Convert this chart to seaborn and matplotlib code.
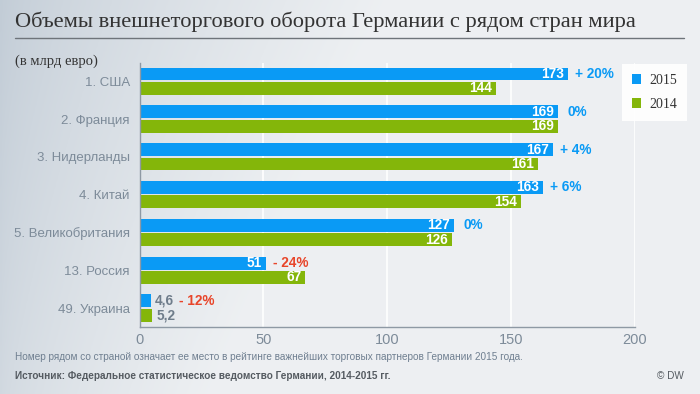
import numpy as np
import pandas as pd
import matplotlib
matplotlib.use("Agg")
import matplotlib.pyplot as plt
import seaborn as sns

countries = ["1. США", "2. Франция", "3. Нидерланды", "4. Китай",
             "5. Великобритания", "13. Россия", "49. Украина"]
v2015 = [173, 169, 167, 163, 127, 51, 4.6]
v2014 = [144, 169, 161, 154, 126, 67, 5.2]
lab2015 = ["173", "169", "167", "163", "127", "51", "4,6"]
lab2014 = ["144", "169", "161", "154", "126", "67", "5,2"]
changes = ["+ 20%", "0%", "+ 4%", "+ 6%", "0%", "- 24%", "- 12%"]
years = ["2015", "2014"]
xticks = [0, 50, 100, 150, 200]

title = "Объемы внешнеторгового оборота Германии с рядом стран мира"
unit = "(в млрд евро)"
note = "Номер рядом со страной означает ее место в рейтинге важнейших торговых партнеров Германии 2015 года."
source = "Источник: Федеральное статистическое ведомство Германии, 2014-2015 гг."
copyright_ = "© DW"

BLUE = "#0a9af5"
GREEN = "#84b60a"
RED = "#e8452a"
GRAYTXT = "#7d8b99"

df = pd.DataFrame({
    "country": countries * 2,
    "value": v2015 + v2014,
    "year": [years[0]] * len(countries) + [years[1]] * len(countries),
})

sns.set_theme(style="white")
plt.rcParams["font.family"] = ["Liberation Sans", "DejaVu Sans"]

fig = plt.figure(figsize=(7, 3.94), dpi=100)

# background gradient
bg = fig.add_axes([0, 0, 1, 1], zorder=-10)
xx = np.linspace(0, 1, 300)
yy = np.linspace(0, 1, 200)
X, Y = np.meshgrid(xx, yy)
c_left = np.array([0.76, 0.80, 0.84])
c_right = np.array([0.93, 0.94, 0.95])
t = np.clip(X / 0.55, 0, 1) ** 0.7
t = np.clip(t + 0.35 * Y, 0, 1)
img = c_left[None, None, :] * (1 - t[..., None]) + c_right[None, None, :] * t[..., None]
bg.imshow(img, aspect="auto", extent=[0, 1, 0, 1], origin="upper")
bg.axis("off")

ax = fig.add_axes([0.1993, 0.170, 0.7077, 0.670])
ax.patch.set_alpha(0)
sns.barplot(data=df, y="country", x="value", hue="year", orient="h",
            palette=[BLUE, GREEN], width=0.76, gap=0.1, ax=ax,
            saturation=1, legend=True, linewidth=0, edgecolor="none")

ax.set_xlim(0, 200)
ax.set_ylim(6.5, -0.48)
ax.set_xticks(xticks)
ax.set_xticklabels([str(v) for v in xticks])
ax.set_xlabel("")
ax.set_ylabel("")
ax.xaxis.grid(True, color="white", lw=1.2)
ax.set_axisbelow(True)
for s in ["top", "right"]:
    ax.spines[s].set_visible(False)
for s in ["left", "bottom"]:
    ax.spines[s].set_color("#8e99a4")
    ax.spines[s].set_linewidth(1)
ax.tick_params(axis="x", length=0, labelsize=10.5, labelcolor=GRAYTXT, pad=4)
ax.tick_params(axis="y", length=0, labelsize=9.5, labelcolor=GRAYTXT, pad=7)

# value labels
c15, c14 = ax.containers[0], ax.containers[1]
for i, (r15, r14) in enumerate(zip(c15, c14)):
    for r, lab in ((r15, lab2015[i]), (r14, lab2014[i])):
        w = r.get_width()
        yc = r.get_y() + r.get_height() / 2
        if w > 20:
            ax.annotate(lab, (w, yc), xytext=(-3, 0), textcoords="offset points",
                        ha="right", va="center", color="white", fontsize=9.8,
                        fontweight="bold")
        else:
            ax.annotate(lab, (w, yc), xytext=(3, 0), textcoords="offset points",
                        ha="left", va="center", color="#6f7d8b", fontsize=9.8,
                        fontweight="bold")
    w = r15.get_width()
    yc = r15.get_y() + r15.get_height() / 2
    col = RED if changes[i].startswith("-") else BLUE
    off = 5 if w > 20 else 20
    if changes[i] == "0%":
        off = 7
    ax.annotate(changes[i], (w, yc), xytext=(off, 0), textcoords="offset points",
                ha="left", va="center", color=col, fontsize=9.8, fontweight="bold")

# legend
handles, labels = ax.get_legend_handles_labels()
leg = ax.legend(handles, labels, loc="upper left", bbox_to_anchor=(622 / 700, 1 - 64 / 394),
                bbox_transform=fig.transFigure, frameon=True, fancybox=False,
                handlelength=0.7, handleheight=0.7, handletextpad=0.6,
                labelspacing=0.8, borderpad=0.7, borderaxespad=0,
                prop={"family": "Liberation Serif", "size": 10})
leg.get_frame().set_facecolor("white")
leg.get_frame().set_edgecolor("none")
leg.get_frame().set_alpha(0.9)
for txt in leg.get_texts():
    txt.set_color("#333333")

# title and texts
fig.text(15 / 700, 1 - 22 / 394, title, ha="left", va="center", fontsize=16.2,
         family="Liberation Serif", color="#333333")
fig.add_artist(plt.Line2D([15 / 700, 684 / 700], [1 - 38 / 394, 1 - 38 / 394],
                          color="#6e747a", lw=1, transform=fig.transFigure))
fig.text(15 / 700, 1 - 61 / 394, unit, ha="left", va="center", fontsize=10.5,
         family="Liberation Serif", color="#333333")
fig.text(15 / 700, 1 - 357 / 394, note, ha="left", va="center", fontsize=7.2,
         color="#6f7f90")
fig.text(15 / 700, 1 - 376 / 394, source, ha="left", va="center", fontsize=7.2,
         color="#555b61", fontweight="bold")
fig.text(684 / 700, 1 - 376 / 394, copyright_, ha="right", va="center", fontsize=7.2,
         color="#555b61")

fig.savefig("out.png", dpi=100)
